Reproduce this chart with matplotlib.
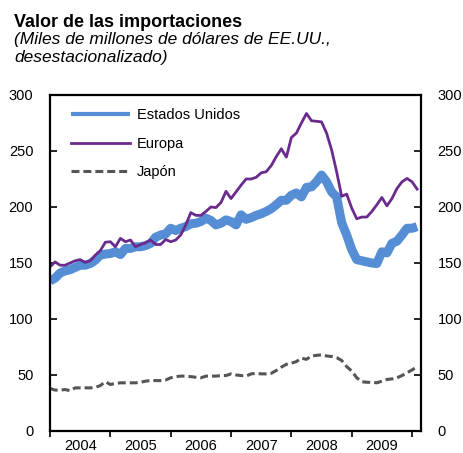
import matplotlib
matplotlib.use('Agg')
import matplotlib.pyplot as plt
import numpy as np

# Monthly values, Jan 2004 - Feb 2010 (billions of US$, s.a.)
estados_unidos = [134, 136.5, 141, 143, 144, 146, 148, 148, 149.5, 152.5, 157, 158,
                  158.5, 160, 157.5, 163, 163, 164.5, 164.5, 165.5, 167.5, 173, 175, 176,
                  181, 179, 181, 182.5, 185, 185.5, 187, 190, 188, 184, 185.5, 188.5,
                  187, 184, 193, 189, 190.5, 192.5, 194, 196, 198.5, 202, 206, 206,
                  210.5, 212.5, 209, 217.5, 218, 222.5, 228.5, 222.5, 213.5, 209, 186, 175,
                  162, 153, 152, 151, 150, 149.5, 160, 159, 167.5, 169.5, 175, 181,
                  181, 182.5]
europa = [146.5, 151, 148, 148, 150, 152, 153, 150.5, 152, 157, 161, 168.5,
          169, 164.5, 172, 169, 170.5, 164.5, 166.5, 168, 170.5, 166.5, 166.5, 171,
          169, 170.5, 175, 184, 195, 192.5, 192.5, 196, 200, 199.5, 204, 214,
          207.5, 213.5, 219.5, 225, 225, 226.5, 230.5, 231.5, 237, 245, 252, 244.5,
          262, 266, 275, 283.5, 277, 276.5, 276, 266, 251, 231.5, 209.5, 211.5,
          199, 189.5, 191, 191, 196, 202, 208.5, 201, 207.5, 216.5, 222.5, 225.5,
          222.5, 216]
japon = [38, 36.5, 36.5, 37, 36, 38.5, 38.5, 38.5, 38.5, 39, 40.5, 44,
         41.5, 42.5, 43, 43, 43, 43, 43.5, 44.5, 45, 45, 45, 45.5,
         47.5, 48.5, 49, 49, 48.5, 48, 47.5, 49, 49, 49, 49.5, 49.5,
         51, 50, 49.5, 49, 51, 51.5, 51, 51, 51.5, 54, 57, 59.5,
         60.5, 62, 65, 64, 67, 67.5, 68, 67, 66.5, 65.5, 63, 57.5,
         53.5, 47.5, 44, 43.5, 43.5, 43, 44.5, 46, 46.5, 47.5, 49.5, 52,
         54.5, 57.5]
years = ['2004', '2005', '2006', '2007', '2008', '2009']
y_ticks = [0, 50, 100, 150, 200, 250, 300]

plt.rcParams['font.family'] = ['Liberation Sans', 'DejaVu Sans']

fig = plt.figure(figsize=(4.64, 4.53), dpi=100)
ax = fig.add_axes([0.1078, 0.0486, 0.7992, 0.7417])

x = np.arange(len(estados_unidos))
ax.plot(x, estados_unidos, color='#558ED5', linewidth=6.5, label='Estados Unidos',
        solid_capstyle='butt')
ax.plot(x, europa, color='#6A2B8C', linewidth=2.0, label='Europa')
ax.plot(x, japon, color='#555555', linewidth=2.2, linestyle=(0, (2.6, 1.3)),
        label='Japón')

ax.set_xlim(0, 73.75)
ax.set_ylim(0, 300)
ax.set_yticks(y_ticks)
ax.set_xticks(np.arange(0, 73, 12))
ax.set_xticklabels([])
ax.set_xticks(np.arange(6, 73, 12), minor=True)
ax.set_xticklabels(years, minor=True)
ax.tick_params(axis='x', which='major', direction='out', length=4, width=1.2)
ax.tick_params(axis='x', which='minor', length=0, pad=6, labelsize=10.5)
ax.tick_params(axis='y', direction='in', length=5, width=1.2, labelsize=10.5,
               pad=12, left=True, right=True, labelleft=True, labelright=True)
for sp in ax.spines.values():
    sp.set_linewidth(1.6)

leg = ax.legend(loc='upper left', frameon=False, fontsize=10.5, handlelength=4.1,
                labelspacing=1.0, handletextpad=0.45, bbox_to_anchor=(0.02, 1.0))
# thinner legend keys, as in the source
leg.get_lines()[0].set_linewidth(3.0)

fig.text(0.03, 0.9404, 'Valor de las importaciones', fontsize=13, fontweight='bold',
         va='baseline')
fig.text(0.03, 0.9029, '(Miles de millones de dólares de EE.UU.,', fontsize=12.5,
         style='italic', va='baseline')
fig.text(0.03, 0.8631, 'desestacionalizado)', fontsize=12.5, style='italic',
         va='baseline')

fig.savefig('out.png', dpi=100)
